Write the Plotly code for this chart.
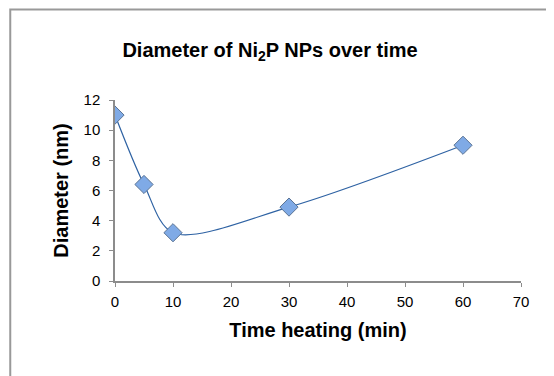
import plotly.graph_objects as go

time_min = [0, 5, 10, 30, 60]
diameter_nm = [11, 6.4, 3.2, 4.9, 9]

fig = go.Figure()

fig.add_trace(
    go.Scatter(
        x=time_min, y=diameter_nm, mode="lines+markers",
        line=dict(color="#2E62A3", width=1.2, shape="spline", smoothing=0.9),
        marker=dict(symbol="diamond", size=14, color="#7FAAE6",
                    line=dict(color="#5A7394", width=1)),
        showlegend=False,
    )
)

# page body has an 8px margin, so the figure sits 8px right/down
fig.update_layout(
    width=554, height=376,
    margin=dict(t=92, b=103, l=107, r=41),
    plot_bgcolor="white", paper_bgcolor="white",
    font=dict(family="Liberation Sans, Arial", color="black", size=15),
    title=dict(text="<b>Diameter of Ni<sub>2</sub>P NPs over time</b>",
               x=0.473, xref="container", xanchor="center",
               yref="container", y=0.888, yanchor="middle",
               font=dict(size=20)),
    shapes=[dict(type="rect", xref="paper", yref="paper",
                 x0=-0.258, x1=2, y0=-2, y1=1.5,
                 line=dict(color="#999999", width=2))],
)

fig.update_xaxes(
    range=[0, 70], dtick=10, showgrid=False, zeroline=False,
    showline=True, linecolor="#8C8C8C", linewidth=1.5,
    ticks="outside", ticklen=4, tickcolor="#8C8C8C",
    tickfont=dict(size=15), ticklabelstandoff=2,
    title=dict(text="<b>Time heating (min)</b>", font=dict(size=20), standoff=14),
)
fig.update_yaxes(
    range=[0, 12], dtick=2, showgrid=False, zeroline=False,
    showline=True, linecolor="#8C8C8C", linewidth=1.5,
    ticks="outside", ticklen=4, tickcolor="#8C8C8C",
    tickfont=dict(size=15), ticklabelstandoff=6,
    title=dict(text="<b>Diameter (nm)</b>", font=dict(size=20), standoff=10),
)

fig.write_html("out.html", config={"displayModeBar": False})
